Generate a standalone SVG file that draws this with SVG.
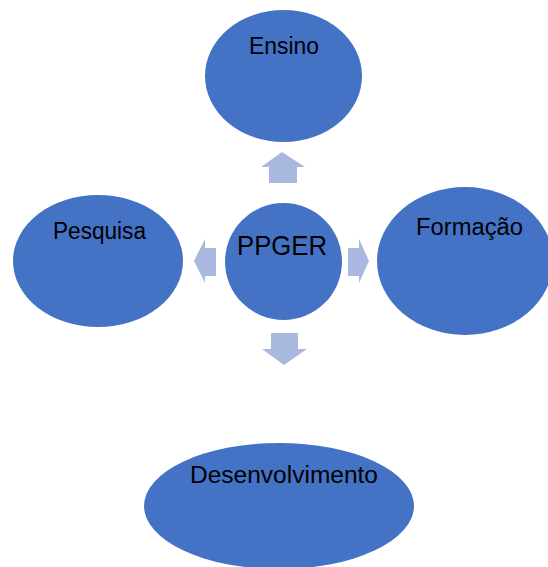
<svg xmlns="http://www.w3.org/2000/svg" width="548" height="567" viewBox="0 0 548 567">
<style>
.node{fill:#4472C4}
.arrow{fill:#A9B8DE}
text{font-family:"Liberation Sans","DejaVu Sans",sans-serif;fill:#000;text-anchor:middle;font-size:23px}
</style>
<rect width="548" height="567" fill="#fff"/>
<g id="connectors">
<polygon class="arrow" points="282,152 305,167 297,167 297,183 269,183 269,167 261,167"/>
<polygon class="arrow" points="194,261 205,239 205,248 216,248 216,276 205,276 205,283"/>
<polygon class="arrow" points="369,261 359,239 359,248 348,248 348,276 359,276 359,283"/>
<polygon class="arrow" points="284,365 307,349 298,349 298,333 271,333 271,349 262,349"/>
</g>
<g id="ensino">
<ellipse class="node" cx="283.5" cy="76" rx="78.5" ry="66"/>
<text x="284" y="54" textLength="70" lengthAdjust="spacingAndGlyphs">Ensino</text>
</g>
<g id="ppger">
<circle class="node" cx="283.5" cy="261.5" r="58.5"/>
<text x="282" y="255" style="font-size:28px" textLength="90" lengthAdjust="spacingAndGlyphs">PPGER</text>
</g>
<g id="pesquisa">
<ellipse class="node" cx="98" cy="261" rx="85" ry="66"/>
<text x="99.5" y="239" textLength="93" lengthAdjust="spacingAndGlyphs">Pesquisa</text>
</g>
<g id="formacao">
<ellipse class="node" cx="465" cy="261" rx="88" ry="74"/>
<text x="469.5" y="235" textLength="107" lengthAdjust="spacingAndGlyphs">Formação</text>
</g>
<g id="desenvolvimento">
<ellipse class="node" cx="279" cy="506" rx="135" ry="63"/>
<text x="284" y="483" textLength="188" lengthAdjust="spacingAndGlyphs">Desenvolvimento</text>
</g>
</svg>
